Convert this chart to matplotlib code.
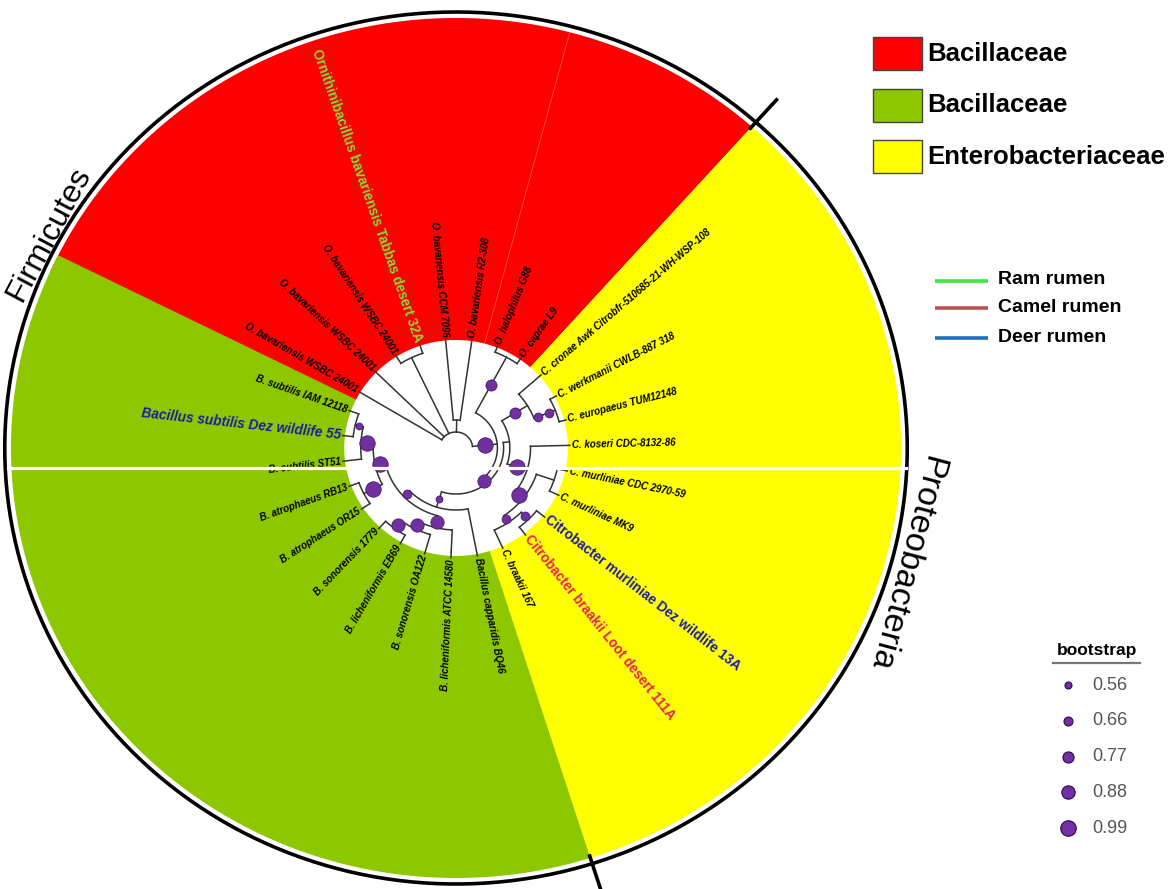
import numpy as np
import matplotlib
matplotlib.use("Agg")
import matplotlib.pyplot as plt
from matplotlib.patches import Polygon, Rectangle

plt.rcParams['font.family'] = ['Liberation Sans', 'DejaVu Sans']

# tips in drawing order (clockwise, starting at the first WSBC 24001)
tips = ['WSBC1', 'WSBC2', 'WSBC3', 'Tabbas', 'CCM', 'R2', 'halophilus', 'caprae',
        'cronae', 'werkmanii', 'europaeus', 'koseri', 'CDC', 'MK9', 'D13A', 'Loot',
        'braakii167', 'capparidis', 'ATCC', 'OA122', 'EB69', 'S1779', 'OR15', 'RB13',
        'ST51', 'Dez55', 'IAM']

tip_labels = {
    'WSBC1': 'O. bavariensis WSBC 24001', 'WSBC2': 'O. bavariensis WSBC 24001',
    'WSBC3': 'O. bavariensis WSBC 24001',
    'Tabbas': 'Ornithinibacillus bavariensis Tabbas desert 32A',
    'CCM': 'O. bavariensis CCM 7096', 'R2': 'O. bavariensis R2-308',
    'halophilus': 'O. halophilus G88', 'caprae': 'O. caprae L9',
    'cronae': 'C. cronae Awk Citrobfr-510685-21-WH-WSP-108',
    'werkmanii': 'C. werkmanii CWLB-887 318', 'europaeus': 'C. europaeus TUM12148',
    'koseri': 'C. koseri CDC-8132-86', 'CDC': 'C. murliniae CDC 2970-59',
    'MK9': 'C. murliniae MK9', 'D13A': 'Citrobacter murliniae Dez wildlife 13A',
    'Loot': 'Citrobacter braakii Loot desert 111A', 'braakii167': 'C. braakii 167',
    'capparidis': 'Bacillus capparidis BQ46', 'ATCC': 'B. licheniformis ATCC 14580',
    'OA122': 'B. sonorensis OA122', 'EB69': 'B. licheniformis EB69',
    'S1779': 'B. sonorensis 1779', 'OR15': 'B. atrophaeus OR15',
    'RB13': 'B. atrophaeus RB13', 'ST51': 'B. subtilis ST51',
    'Dez55': 'Bacillus subtilis Dez wildlife 55', 'IAM': 'B. subtilis IAM 12118',
}

# isolates from this study: (colour, italic)
isolates = {'Tabbas': ('#84dc3a', False), 'Dez55': ('#1c1ca8', True),
            'D13A': ('#1c1ca8', False), 'Loot': ('#e8245a', False)}

# internal nodes: name -> (radius px, bootstrap, children)
nodes = {
    'root': (16, None, ['WSBC1', 'WSBC2', 'P1', 'P2', 'Z']),
    'P1': (100, None, ['WSBC3', 'Tabbas']),
    'P2': (28, None, ['CCM', 'R2']),
    'Z': (40, 0.99, ['H', 'W']),
    'H': (103, 0.77, ['halophilus', 'caprae']),
    'W': (46, 0.88, ['Cit', 'Bac']),
    'Cit': (52, None, ['C1', 'C2']),
    'C1': (81, 0.77, ['cronae', 'WE0']),
    'WE0': (90, 0.66, ['WE']),
    'WE': (103, 0.66, ['werkmanii', 'europaeus']),
    'C2': (72, 0.99, ['koseri', 'C3']),
    'C3': (82, 0.99, ['C3a', 'C4']),
    'C3a': (100, None, ['CDC', 'MK9']),
    'C4': (90, 0.66, ['C5', 'braakii167']),
    'C5': (100, 0.66, ['D13A', 'Loot']),
    'Bac': (62, 0.56, ['capparidis', 'B2']),
    'B2': (70, 0.66, ['B3', 'B6']),
    'B3': (82, 0.88, ['ATCC', 'B4']),
    'B4': (90, 0.88, ['OA122', 'B5']),
    'B5': (100, 0.88, ['EB69', 'S1779']),
    'B6': (80, 0.99, ['B7', 'B8']),
    'B7': (100, 0.99, ['OR15', 'RB13']),
    'B8': (92, 0.99, ['ST51', 'B9']),
    'B9': (100, 0.56, ['Dez55', 'IAM']),
}

# clade highlights: (colour, first tip, last tip)
hilights = [('#ff0000', 'WSBC1', 'R2'), ('#ff0000', 'halophilus', 'caprae'),
            ('#ffff00', 'cronae', 'braakii167'), ('#8dc700', 'capparidis', 'IAM')]

phyla = [('Firmicutes', 'capparidis', 'caprae'), ('Proteobacteria', 'cronae', 'braakii167')]

family_legend = [('Bacillaceae', '#ff0000'), ('Bacillaceae', '#8dc700'),
                 ('Enterobacteriaceae', '#ffff00')]
source_legend = [('Ram rumen', '#3ee83e'), ('Camel rumen', '#c0504d'),
                 ('Deer rumen', '#1f6fbf')]
bootstrap_legend = [0.56, 0.66, 0.77, 0.88, 0.99]

# layout
CX, CY, SX = 456, 448, 1.035
START, STEP = 149.0, -13.42
TIP_R, LAB_R, INNER_R, OUTER_R, RING_R = 110, 112, 108, 430, 436
PURPLE = '#7030a0'

tip_angle = {t: START + STEP * i for i, t in enumerate(tips)}


def pol(r, a):
    t = np.radians(a)
    return CX + SX * r * np.cos(t), CY - r * np.sin(t)


def angle(n):
    if n in tip_angle:
        return tip_angle[n]
    return np.mean([angle(c) for c in nodes[n][2]])


def dot_size(b):
    d = 7 + (b - 0.56) / 0.43 * 8.5
    return (d * 0.72) ** 2


fig = plt.figure(figsize=(11.72, 8.89), dpi=100)
ax = fig.add_axes([0, 0, 1, 1])
ax.set_xlim(0, 1172)
ax.set_ylim(889, 0)
ax.axis('off')

# highlighted sectors
for col, t0, t1 in hilights:
    a = np.linspace(tip_angle[t0] - STEP / 2, tip_angle[t1] + STEP / 2, 200)
    xs, ys = pol(OUTER_R, a)
    pts = np.column_stack([np.r_[CX, xs], np.r_[CY, ys]])
    ax.add_patch(Polygon(pts, closed=True, facecolor=col, edgecolor='none', zorder=1))
a_b = tip_angle['R2'] + STEP / 2
ax.plot(*zip(pol(INNER_R, a_b), pol(OUTER_R, a_b)), color='#e84a3a', lw=0.6, zorder=1.5)

th = np.linspace(0, 360, 300)
xs, ys = pol(INNER_R, th)
ax.add_patch(Polygon(np.column_stack([xs, ys]), facecolor='white', edgecolor='none', zorder=2))

# phylum ring and ticks
for name, t0, t1 in phyla:
    a0 = tip_angle[t0] - STEP / 2
    a1 = tip_angle[t1] + STEP / 2
    if a1 < a0:
        a1 += 360
    a = np.linspace(a0, a1, 300)
    ax.plot(*pol(RING_R, a), color='black', lw=2.6, zorder=3, solid_capstyle='butt')
    ax.plot(*zip(pol(428, a0), pol(466, a0)), color='black', lw=2.6, zorder=3)
for name, am, rad, rot, fs in [('Firmicutes', 151.5, 448, 62.0, 23),
                               ('Proteobacteria', -14.8, 449, -104.8, 24.5)]:
    x, y = pol(rad, am)
    ax.text(x, y, name, fontsize=fs, rotation=rot, ha='center', va='center',
            rotation_mode='anchor', zorder=4)


# tree
def draw(n, parent_r):
    a = angle(n)
    r = TIP_R if n in tip_angle else nodes[n][0]
    if parent_r is not None:
        ax.plot(*zip(pol(parent_r, a), pol(r, a)), color='#333333', lw=1.1, zorder=5)
    if n in tip_angle:
        return
    kids = nodes[n][2]
    ka = [angle(c) for c in kids]
    if len(kids) > 1:
        arc = np.linspace(min(ka), max(ka), 80)
        ax.plot(*pol(r, arc), color='#333333', lw=1.1, zorder=5)
    b = nodes[n][1]
    if b is not None and parent_r is not None:
        x, y = pol((r + parent_r) / 2, a)
        ax.scatter([x], [y], s=dot_size(b), color=PURPLE, edgecolor='#3d1566',
                   linewidth=0.5, zorder=6)
    for c in kids:
        draw(c, r)


draw('root', None)

# tip labels
for t in tips:
    a = tip_angle[t]
    x, y = pol(LAB_R, a)
    rot = np.degrees(np.arctan2(np.sin(np.radians(a)), SX * np.cos(np.radians(a))))
    if 90 < rot % 360 < 270:
        rot, ha = rot - 180, 'right'
    else:
        ha = 'left'
    if t in isolates:
        col, it = isolates[t]
        ax.text(x, y, tip_labels[t], fontsize=9.8, fontweight='bold', color=col,
                style='italic' if it else 'normal', rotation=rot, ha=ha, va='center',
                rotation_mode='anchor', zorder=7)
    else:
        ax.text(x, y, tip_labels[t], fontsize=7, fontweight='bold', style='italic',
                color='black', rotation=rot, ha=ha, va='center',
                rotation_mode='anchor', zorder=7)

# white seam across the picture
ax.plot([8, 906], [468, 468], color='white', lw=2.3, zorder=8)

# family legend
for i, (lab, col) in enumerate(family_legend):
    y0 = 37 + i * 51.5
    ax.add_patch(Rectangle((873, y0), 49, 33, facecolor=col, edgecolor='#444444',
                           lw=1, zorder=4))
    ax.text(927, y0 + 17, lab, fontsize=18.5, fontweight='bold', va='center', ha='left')

# source legend
for (lab, col), y in zip(source_legend, [281, 308, 338]):
    ax.plot([935, 988], [y, y], color=col, lw=2.6, solid_capstyle='butt')
    ax.text(998, y - 1, lab, fontsize=14, fontweight='bold', va='center', ha='left')

# bootstrap legend
ax.text(1097, 650, 'bootstrap', fontsize=12.5, fontweight='bold', ha='center', va='center')
ax.plot([1053, 1140], [663, 663], color='#777777', lw=1.6)
for i, b in enumerate(bootstrap_legend):
    y = 685 + i * 35.8
    ax.scatter([1068], [y], s=dot_size(b), color=PURPLE, edgecolor='#2a0a50', linewidth=0.8)
    ax.text(1092, y, f'{b:.2f}', fontsize=13, color='#555555', ha='left', va='center')

fig.savefig('out.png', dpi=100)
